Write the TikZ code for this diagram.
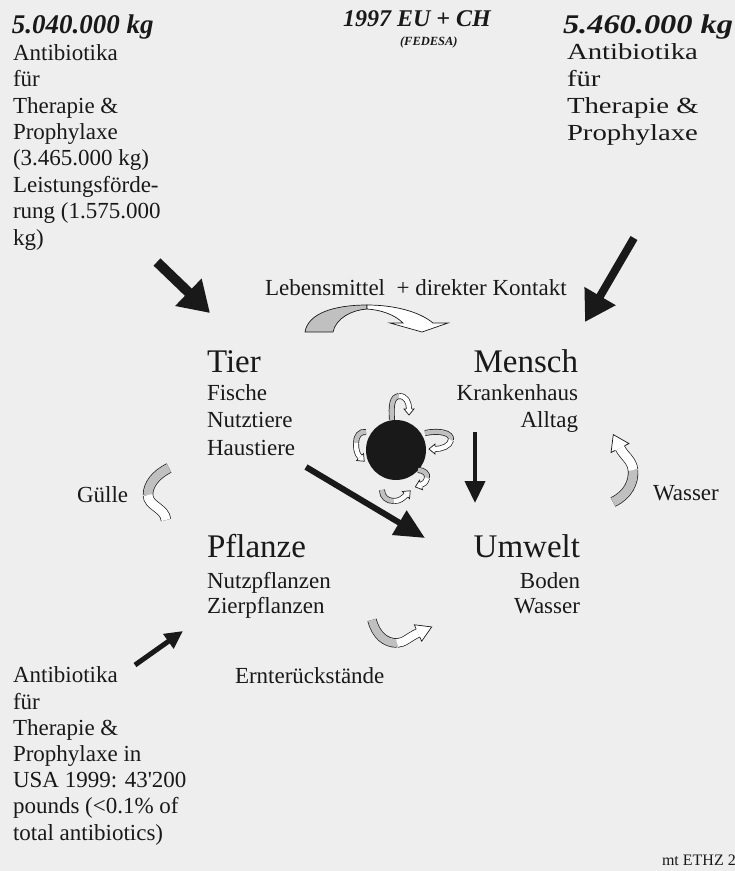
\documentclass[tikz,border=0pt]{standalone}
\usepackage{fontspec}
\setmainfont{Liberation Serif}
\usetikzlibrary{arrows.meta,decorations.markings}
\definecolor{ink}{RGB}{25,25,25}
\definecolor{ribgray}{RGB}{192,192,192}
\definecolor{bgpaper}{RGB}{238,238,238}
% #1 band width, #2 head half width, #3 head length, #4 grey path, #5 white path
\newcommand{\ribarrow}[5]{%
  \draw[line width=#1pt+1.4pt, draw=ink] #4;
  \draw[line width=#1pt+1.4pt, draw=ink] #5;
  \draw[line width=#1pt, draw=ribgray] #4;
  \draw[line width=#1pt, draw=white, postaction={decorate, decoration={markings, mark=at position 1 with {%
      \filldraw[fill=white, draw=ink, line width=0.7pt, line join=miter] (0,{#1/2+0.7}) -- (0,#2) -- (#3,0) -- (0,-#2) -- (0,{-#1/2-0.7});}}}] #5;
}
\begin{document}
\begin{tikzpicture}[x=1pt,y=-1pt,
  txt/.style={inner sep=0pt, outer sep=0pt, text=ink},
  body/.style={txt, font=\fontsize{23}{26.4}\selectfont},
  head/.style={txt, font=\fontsize{27}{30}\selectfont\bfseries\itshape},
  big/.style={txt, font=\fontsize{33}{36}\selectfont},
  blk/.style={draw=ink}]
\fill[bgpaper] (0,0) rectangle (735,871);
\useasboundingbox (0,0) rectangle (735,871);

% ---------- top texts (multi-line nodes anchored at the baseline of their last line) ----------
\node[head, anchor=base west] (hl) at (12,33) {5.040.000 kg};
\node[body, align=left, anchor=base west] (cl) at (13,245) {Antibiotika\\für\\Therapie \&\\Prophylaxe\\(3.465.000 kg)\\Leistungsförde-\\rung (1.575.000\\kg)};
\node[txt, anchor=base west, font=\fontsize{24}{27}\selectfont\bfseries\itshape] (yr) at (343,26) {1997 EU + CH};
\node[txt, anchor=base west, font=\fontsize{12.5}{14}\selectfont\bfseries\itshape] (fd) at (400,45) {(FEDESA)};
\begin{scope}[shift={(563,33)}, xscale=1.2]
  \node[head, transform shape, anchor=base west] (hr) at (0,0) {5.460.000 kg};
\end{scope}
\begin{scope}[shift={(567,140)}, xscale=1.25]
  \node[txt, font=\fontsize{23}{26.7}\selectfont, transform shape, align=left, anchor=base west] (cr) at (0,0) {Antibiotika\\für\\Therapie \&\\Prophylaxe};
\end{scope}

% ---------- middle texts ----------
\node[body, anchor=base west] (leb) at (265,295) {Lebensmittel\ \ + direkter Kontakt};
\node[big, anchor=base west] (tier) at (207,372) {Tier};
\node[txt, font=\fontsize{23}{27.5}\selectfont, align=left, anchor=base west] (tiers) at (207,455) {Fische\\Nutztiere\\Haustiere};
\node[big, anchor=base east] (mensch) at (578,372) {Mensch};
\node[txt, font=\fontsize{23}{27.5}\selectfont, align=right, anchor=base east] (mens) at (578,427.5) {Krankenhaus\\Alltag};
\node[body, anchor=base west] (guelle) at (77,502) {Gülle};
\node[body, anchor=base west] (wasr) at (653,500) {Wasser};
\node[big, anchor=base west] (pfl) at (207,557) {Pflanze};
\node[txt, font=\fontsize{23}{25.5}\selectfont, align=left, anchor=base west] (pfls) at (207,613.5) {Nutzpflanzen\\Zierpflanzen};
\node[big, anchor=base east] (umw) at (580,557) {Umwelt};
\node[txt, font=\fontsize{23}{25.5}\selectfont, align=right, anchor=base east] (umws) at (580,613.5) {Boden\\Wasser};
\node[body, anchor=base west] (ernte) at (235,683) {Ernterückstände};
\node[txt, font=\fontsize{23}{26.2}\selectfont, align=left, anchor=base west] (cb) at (13,840) {Antibiotika\\für\\Therapie \&\\Prophylaxe in\\USA 1999: 43\textquotesingle 200\\pounds (<0.1\% of\\total antibiotics)};
\node[txt, font=\fontsize{16}{18}\selectfont, anchor=base west] (mt) at (662,865) {mt ETHZ 2};

% ---------- globe ----------
\node[circle, fill=ink, minimum size=60pt, inner sep=0pt] (globe) at (396,450) {};

% ---------- straight black arrows ----------
\coordinate (a1s) at (157,262); \coordinate (a1e) at (210,313);
\coordinate (a2s) at (634,238); \coordinate (a2e) at (585,322);
\coordinate (a3s) at (475,432); \coordinate (a3e) at (475,503);
\coordinate (a4s) at (306,467); \coordinate (a4e) at (425,538);
\coordinate (a5s) at (135,665); \coordinate (a5e) at (183,631);
\draw[blk, line width=10pt, -{Triangle[length=30pt,width=36pt]}] (a1s) -- (a1e);
\draw[blk, line width=8pt, -{Triangle[length=30pt,width=34pt]}] (a2s) -- (a2e);
\draw[blk, line width=4pt, -{Triangle[length=22pt,width=20pt]}] (a3s) -- (a3e);
\draw[blk, line width=6pt, -{Triangle[length=30pt,width=27pt]}] (a4s) -- (a4e);
\draw[blk, line width=5pt, -{Triangle[length=18pt,width=17pt]}] (a5s) -- (a5e);

% ---------- Lebensmittel ribbon arrow ----------
\filldraw[fill=ribgray, draw=ink, line width=0.7pt] (305,332) .. controls (308,313) and (335,305) .. (367,305) -- (367,309) .. controls (352,310) and (336,318) .. (333,332) -- cycle;
\filldraw[fill=white, draw=ink, line width=0.7pt, line join=miter] (367,305) .. controls (395,305) and (420,312) .. (433,323) -- (448,323) -- (422,332) -- (390,323) -- (403,323) .. controls (395,315) and (382,310) .. (367,309) -- cycle;

% ---------- small ribbon arrows round the globe ----------
\ribarrow{4.5}{5}{6}{(392,420) .. controls (391,405) and (392,397) .. (399,396)}{(399,396) .. controls (406,396) and (409,402) .. (409,409)}
\ribarrow{4.5}{5}{6}{(425,433) .. controls (440,430) and (452,433) .. (451,440)}{(451,440) .. controls (450,446) and (442,449) .. (435,449)}
\ribarrow{4.5}{5}{6}{(366,432) .. controls (360,431) and (356,436) .. (356,443)}{(356,443) .. controls (356,450) and (357,454) .. (360,457)}
\ribarrow{4.5}{5}{6}{(418,470) .. controls (424,470) and (428,474) .. (427,478)}{(427,478) .. controls (426,482) and (424,484) .. (421,485)}
\ribarrow{4.5}{5}{6}{(382,490) .. controls (382,497) and (387,501) .. (394,501)}{(394,501) .. controls (400,501) and (403,498) .. (406,495)}

% ---------- Guelle, Wasser, Ernterueckstaende ribbon arrows ----------
\ribarrow{9}{10}{15}{(169,468) .. controls (155,475) and (148,485) .. (148,495)}{(148,495) .. controls (148,506) and (165,508) .. (166,520)}
\ribarrow{9}{10}{15}{(613,502) .. controls (628,495) and (634,482) .. (633,470)}{(633,470) .. controls (632,460) and (624,456) .. (620,448)}
\ribarrow{8}{9}{15}{(372,620) .. controls (376,635) and (385,643) .. (397,643)}{(397,643) .. controls (404,643) and (409,637) .. (418,633)}
\end{tikzpicture}
\end{document}
